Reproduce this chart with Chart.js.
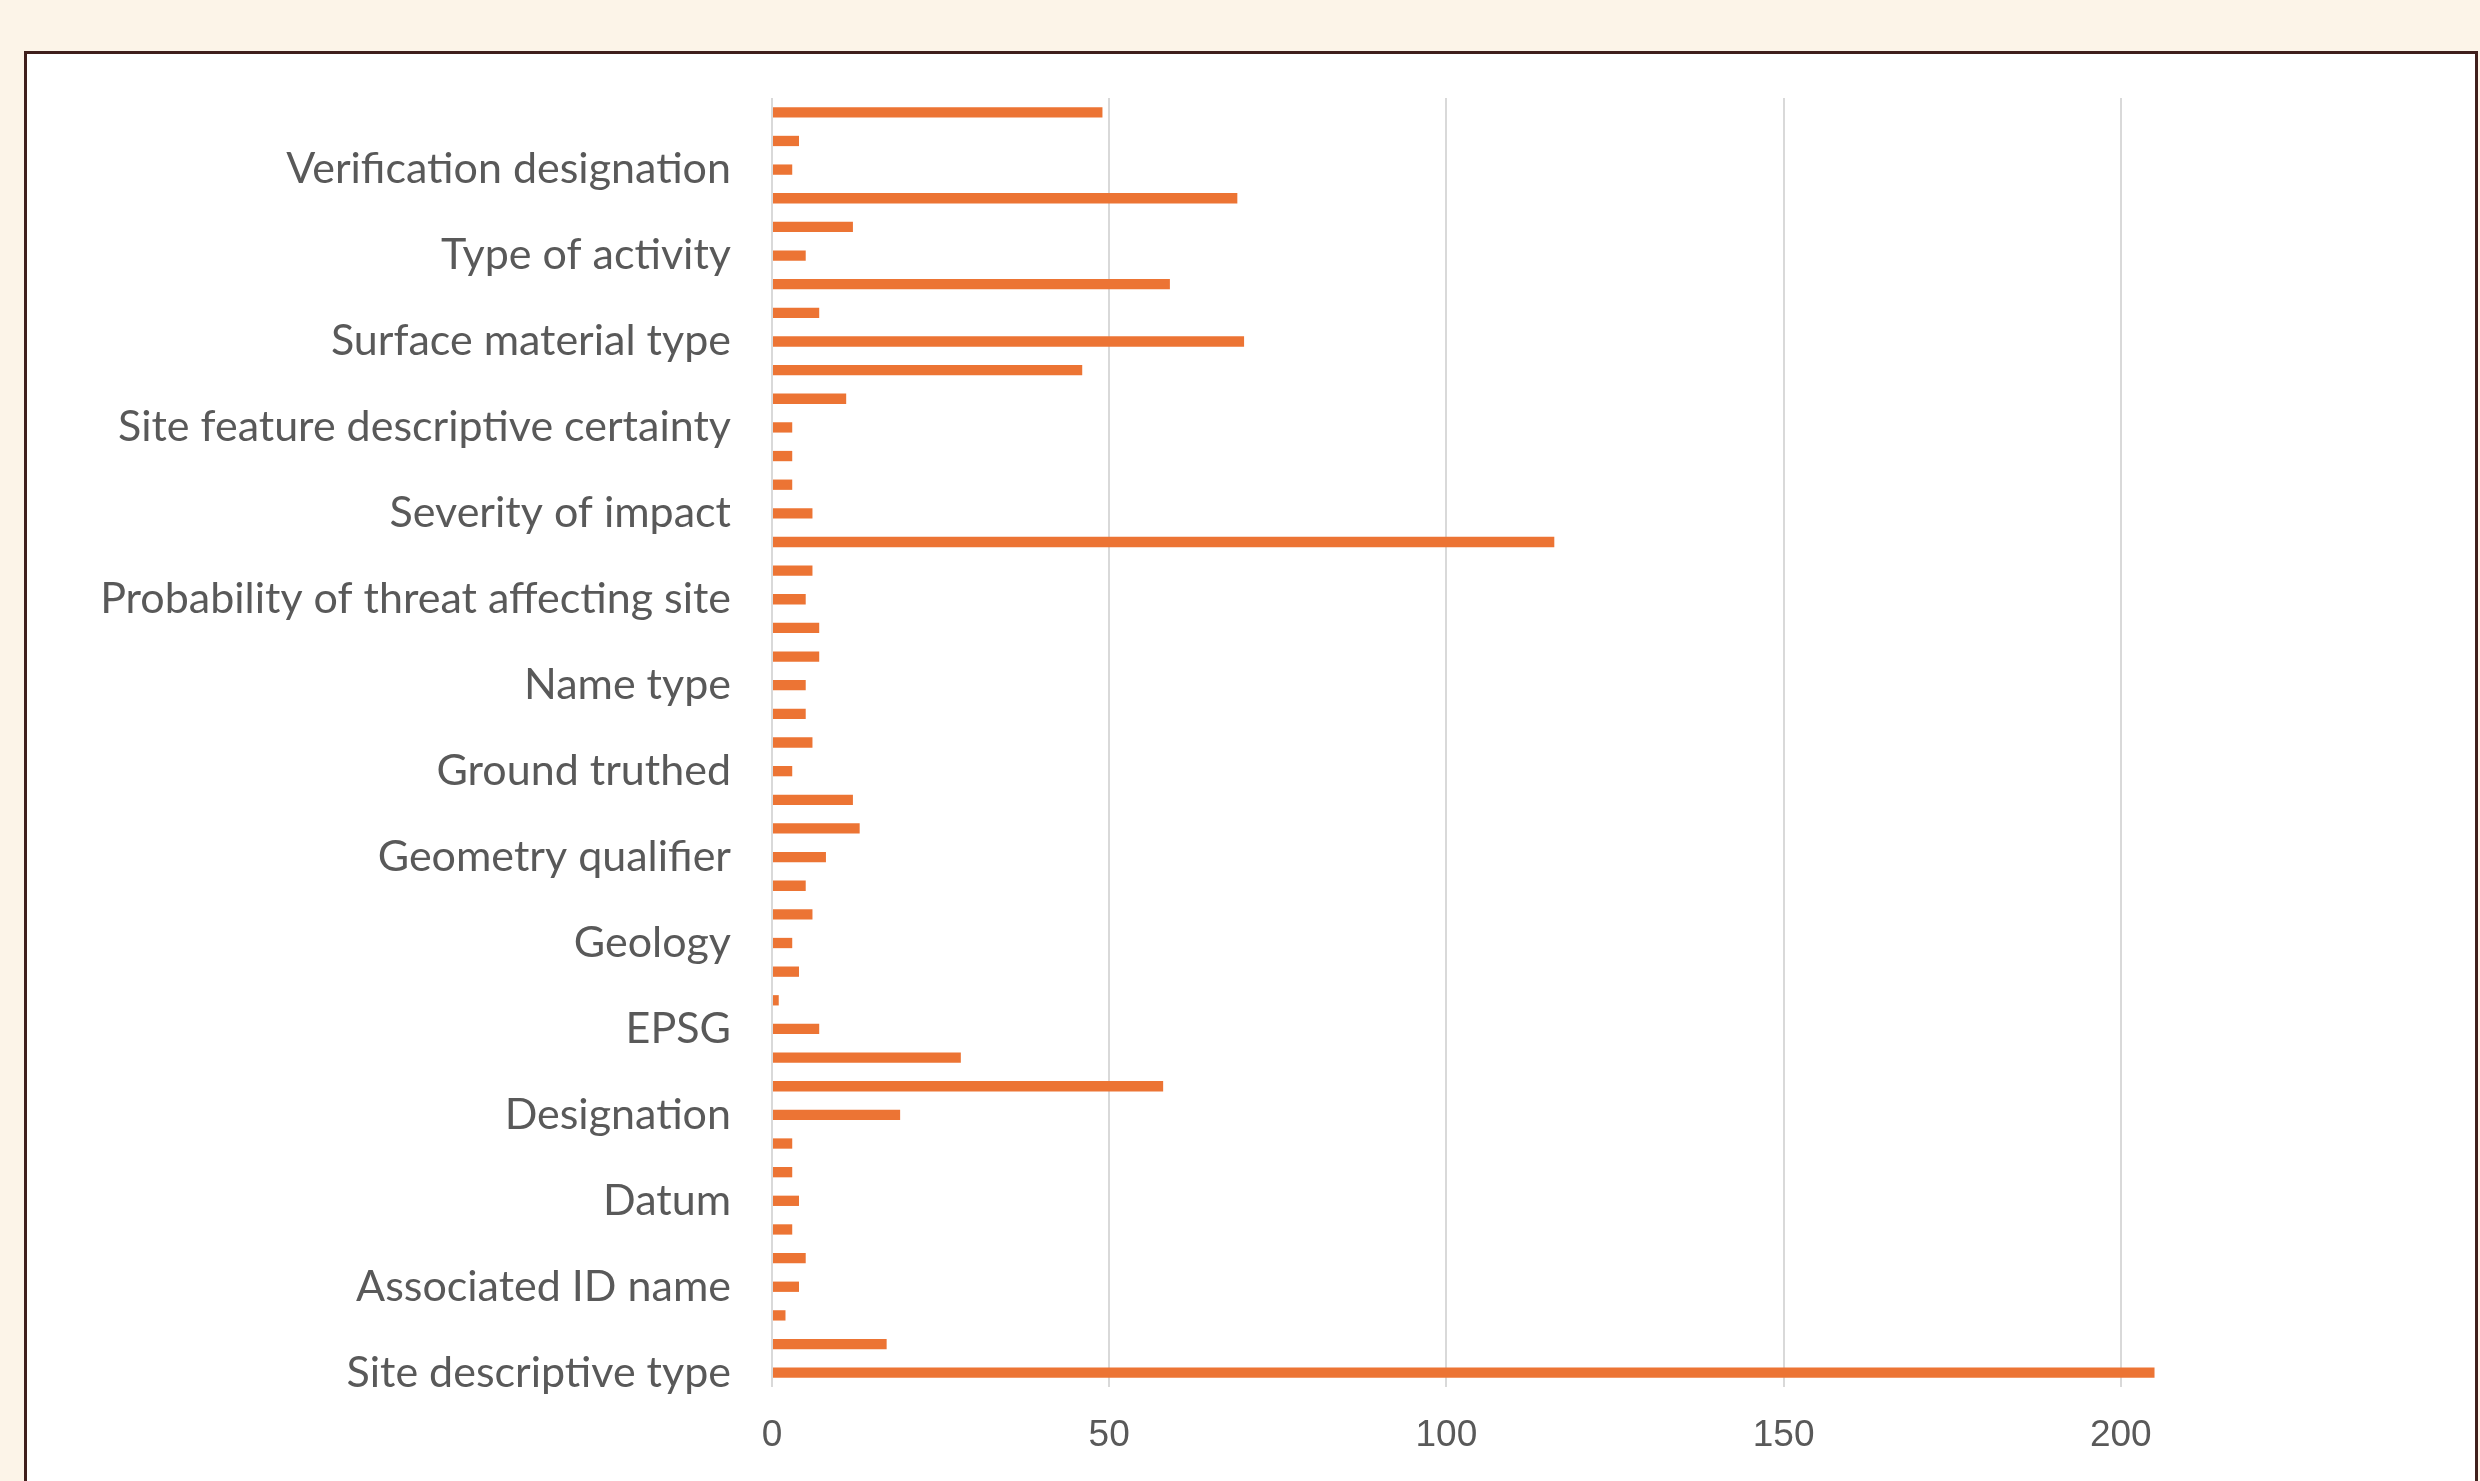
<!DOCTYPE html>
<html>
<head>
<meta charset="utf-8">
<script src="https://cdn.jsdelivr.net/npm/chart.js@4"></script>
<style>
  html, body { margin: 0; padding: 0; background: #FCF4E8; overflow: hidden; }
  #frame {
    position: absolute; left: 24px; top: 51px; width: 2448px; height: 1500px;
    background: #ffffff; border: 3px solid #3f1f1c;
  }
  #wrap { position: absolute; left: 0; top: 0; width: 2480px; height: 1481px; }
</style>
</head>
<body>
<div id="frame"></div>
<div id="wrap"><canvas id="fields"></canvas></div>
<script>
// categories listed top to bottom, only every third one is labelled in the original
const categories = [
    '', '', 'Verification designation',
    '', '', 'Type of activity',
    '', '', 'Surface material type',
    '', '', 'Site feature descriptive certainty',
    '', '', 'Severity of impact',
    '', '', 'Probability of threat affecting site',
    '', '', 'Name type',
    '', '', 'Ground truthed',
    '', '', 'Geometry qualifier',
    '', '', 'Geology',
    '', '', 'EPSG',
    '', '', 'Designation',
    '', '', 'Datum',
    '', '', 'Associated ID name',
    '', '', 'Site descriptive type'
];
const counts = [
    49, 4, 3, 69, 12, 5, 59, 7, 70, 46,
    11, 3, 3, 3, 6, 116, 6, 5, 7, 7,
    5, 5, 6, 3, 12, 13, 8, 5, 6, 3,
    4, 1, 7, 28, 58, 19, 3, 3, 4, 3,
    5, 4, 2, 17, 205
];
const xTicks = [0, 50, 100, 150, 200];

function drawChart() {
    const data = {
        labels: categories,
        datasets: [{
            label: 'Count',
            backgroundColor: '#EC7434',
            borderWidth: 0,
            barPercentage: 0.36,
            categoryPercentage: 1.0,
            data: counts
        }]
    };
    const config = {
        type: 'bar',
        data: data,
        options: {
            indexAxis: 'y',
            responsive: true,
            maintainAspectRatio: false,
            animation: false,
            layout: { padding: { top: 98, right: 22, bottom: 0, left: 0 } },
            plugins: { legend: { display: false }, tooltip: { enabled: false } },
            scales: {
                x: {
                    min: 0,
                    max: 250,
                    afterBuildTicks: (scale) => {
                        scale.ticks = xTicks.map(v => ({ value: v }));
                    },
                    afterFit: (scale) => { scale.height = 94; },
                    grid: { color: '#D9D9D9', lineWidth: 2, drawTicks: false },
                    border: { display: false },
                    ticks: {
                        padding: 27,
                        color: '#595959',
                        font: { family: 'Liberation Sans', size: 37 }
                    }
                },
                y: {
                    afterFit: (scale) => { scale.width = 772; },
                    grid: { display: false, drawTicks: false },
                    border: { display: false },
                    ticks: {
                        autoSkip: false,
                        padding: 41,
                        color: '#595959',
                        font: { family: 'Lato', size: 43 }
                    }
                }
            }
        }
    };
    return new Chart(document.getElementById('fields'), config);
}

drawChart();
</script>
</body>
</html>
